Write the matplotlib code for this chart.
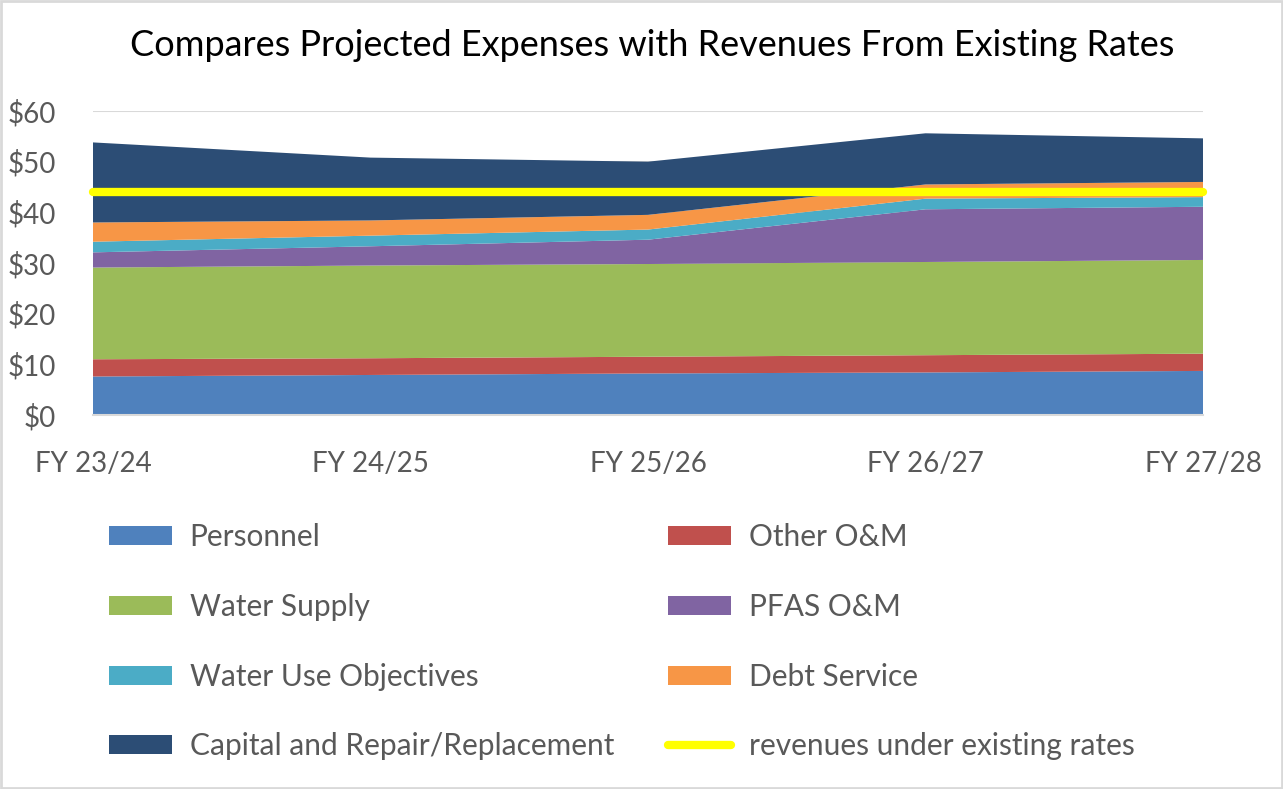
import matplotlib
matplotlib.use("Agg")
import matplotlib.pyplot as plt
from matplotlib.patches import Rectangle

# values in $ millions
years = ["FY 23/24", "FY 24/25", "FY 25/26", "FY 26/27", "FY 27/28"]
personnel = [7.6, 7.9, 8.2, 8.4, 8.7]
other_om = [3.4, 3.3, 3.3, 3.4, 3.4]
water_supply = [18.1, 18.3, 18.3, 18.4, 18.5]
pfas_om = [3.0, 3.8, 4.8, 10.4, 10.5]
water_use_objectives = [2.1, 2.1, 2.0, 2.1, 1.9]
debt_service = [3.8, 3.0, 2.9, 2.8, 3.0]
capital_rr = [15.8, 12.4, 10.5, 10.1, 8.6]
revenues = [44.0, 44.0, 44.0, 44.0, 44.0]

series_labels = ["Personnel", "Other O&M", "Water Supply", "PFAS O&M",
                 "Water Use Objectives", "Debt Service", "Capital and Repair/Replacement"]
colors = ["#4F81BD", "#C0504D", "#9BBB59", "#8064A2", "#4BACC6", "#F79646", "#2C4D75"]

plt.rcParams["font.family"] = ["Lato", "DejaVu Sans"]

fig = plt.figure(figsize=(12.83, 7.89), dpi=100)
ax = fig.add_axes([93 / 1283, 1 - 415 / 789, (1203 - 93) / 1283, (415 - 111) / 789])

x = list(range(len(years)))
polys = ax.stackplot(x, personnel, other_om, water_supply, pfas_om, water_use_objectives,
                     debt_service, capital_rr, colors=colors, labels=series_labels,
                     linewidth=0, zorder=2)
rev_line, = ax.plot(x, revenues, color="#FFFF00", linewidth=6, solid_capstyle="round",
                    label="revenues under existing rates", zorder=3, clip_on=False)

ax.set_xlim(0, len(years) - 1)
ax.set_ylim(0, 60)
ax.set_yticks(range(0, 61, 10))
ax.set_yticklabels([f"${v}" for v in range(0, 61, 10)])
ax.set_xticks(x)
ax.set_xticklabels(years)
ax.tick_params(axis="both", length=0, labelsize=20, colors="#595959")
ax.tick_params(axis="y", pad=27)
ax.tick_params(axis="x", pad=26)
ax.grid(axis="y", color="#D9D9D9", linewidth=1.5, zorder=0)
ax.set_axisbelow(True)
for side in ["top", "right", "left"]:
    ax.spines[side].set_visible(False)
ax.spines["bottom"].set_color("#D9D9D9")
ax.spines["bottom"].set_linewidth(1.5)

fig.text(652 / 1283, 1 - 45 / 789, "Compares Projected Expenses with Revenues From Existing Rates",
         ha="center", va="center", fontsize=26, color="black")

# legend laid out as two columns, matching the reference row order
left_handles = [polys[0], polys[2], polys[4], polys[6]]
right_handles = [polys[1], polys[3], polys[5], rev_line]
legend_kw = dict(frameon=False, fontsize=21.5, handlelength=2.1, handleheight=0.6,
                 handletextpad=0.6, labelspacing=1.4, labelcolor="#595959",
                 borderaxespad=0, borderpad=0)
fig.legend(handles=left_handles, labels=[h.get_label() for h in left_handles],
           loc="upper left", bbox_to_anchor=(109 / 1283, 1 - 523 / 789), **legend_kw)
fig.legend(handles=right_handles, labels=[h.get_label() for h in right_handles],
           loc="upper left", bbox_to_anchor=(668 / 1283, 1 - 523 / 789), **legend_kw)

fig.patches.append(Rectangle((0.001, 0.001), 0.998, 0.998, transform=fig.transFigure,
                             fill=False, edgecolor="#D9D9D9", linewidth=2))

fig.savefig("out.png", dpi=100)
